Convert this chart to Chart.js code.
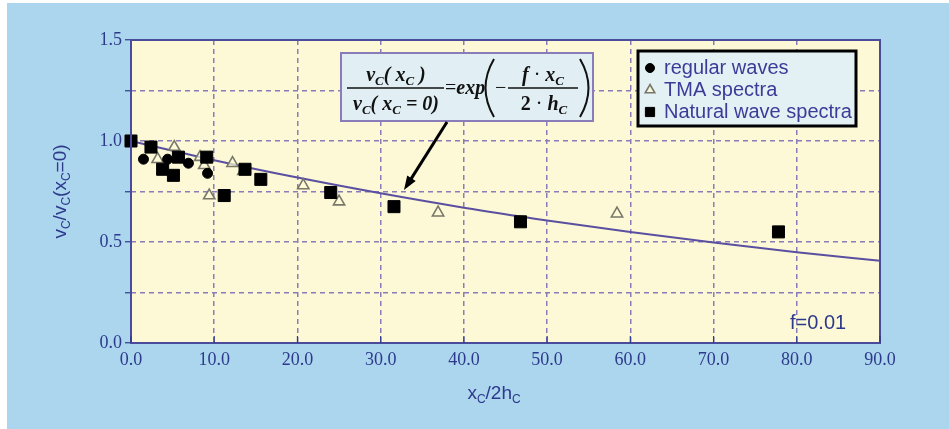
<!DOCTYPE html>
<html>
<head>
<meta charset="utf-8">
<script src="https://cdn.jsdelivr.net/npm/chart.js@4.4.0/dist/chart.umd.min.js"></script>
<style>
  html, body { margin: 0; padding: 0; background: #fff; }
  #wrap { width: 949px; height: 429px; }
</style>
</head>
<body>
<div id="wrap"><canvas id="c"></canvas></div>
<script>
// values
const xTickLabels = ['0.0', '10.0', '20.0', '30.0', '40.0', '50.0', '60.0', '70.0', '80.0', '90.0'];
const yTickLabels = ['0.0', '', '0.5', '', '1.0', '', '1.5'];

const regularX = [1.5, 4.4, 6.9, 9.2];
const regularY = [0.91, 0.91, 0.89, 0.84];

const tmaX = [3.2, 5.2, 8.3, 8.8, 9.4, 12.2, 13.5, 20.7, 25.0, 36.9, 58.4];
const tmaY = [0.91, 0.97, 0.92, 0.88, 0.73, 0.89, 0.85, 0.78, 0.70, 0.645, 0.64];

const naturalX = [0, 2.4, 3.8, 5.1, 5.7, 9.1, 11.2, 13.7, 15.6, 24.0, 31.6, 46.8, 77.8];
const naturalY = [1.0, 0.97, 0.86, 0.83, 0.92, 0.92, 0.73, 0.86, 0.81, 0.745, 0.675, 0.60, 0.55];

// fitted curve exp(-f*x), f = 0.01
const curveX = [0, 10, 20, 30, 40, 50, 60, 70, 80, 90];
const curveY = [1.0, 0.905, 0.819, 0.741, 0.670, 0.607, 0.549, 0.497, 0.449, 0.407];

const NAVY = '#2d3a8c';
const pts = (xs, ys) => xs.map((x, i) => ({x: x, y: ys[i]}));

function drawRuns(ctx, parts, x, y, align) {
  let w = 0;
  parts.forEach(p => { ctx.font = p[1]; w += ctx.measureText(p[0]).width; });
  let cx = align === 'center' ? x - w / 2 : x;
  parts.forEach(p => {
    ctx.font = p[1];
    ctx.fillText(p[0], cx, y + (p[2] || 0));
    cx += ctx.measureText(p[0]).width;
  });
  return w;
}

const decor = {
  id: 'decor',
  beforeDraw(chart) {
    const {ctx, chartArea: a} = chart;
    ctx.save();
    ctx.fillStyle = '#fff';
    ctx.fillRect(0, 0, chart.width, chart.height);
    ctx.fillStyle = '#acd5ee';
    ctx.fillRect(7, 3, chart.width - 7, chart.height - 3);
    ctx.fillStyle = '#fdf9d6';
    ctx.fillRect(a.left, a.top, a.right - a.left, a.bottom - a.top);
    ctx.restore();
  },
  afterDraw(chart) {
    const {ctx, chartArea: a} = chart;
    const xs = chart.scales.x, ys = chart.scales.y;
    ctx.save();

    // frame
    ctx.strokeStyle = '#4b4b9c';
    ctx.lineWidth = 2;
    ctx.strokeRect(a.left, a.top, a.right - a.left, a.bottom - a.top);

    // inward x ticks
    ctx.strokeStyle = NAVY;
    ctx.lineWidth = 1.2;
    xTickLabels.forEach((t, i) => {
      const px = xs.getPixelForValue(i * 10);
      ctx.beginPath();
      ctx.moveTo(px, a.bottom);
      ctx.lineTo(px, a.bottom - 7);
      ctx.stroke();
    });

    // axis titles
    ctx.fillStyle = NAVY;
    ctx.textAlign = 'left';
    ctx.textBaseline = 'alphabetic';
    const T = '19px "Liberation Sans"', S = '12px "Liberation Sans"';
    drawRuns(ctx, [['x', T], ['C', S, 4], ['/2h', T], ['C', S, 4]], 494, 399, 'center');
    ctx.save();
    ctx.translate(60, (a.top + a.bottom) / 2);
    ctx.rotate(-Math.PI / 2);
    drawRuns(ctx, [['v', T], ['C', S, 4], ['/v', T], ['C', S, 4], ['(x', T], ['C', S, 4], ['=0)', T]], 0, 6, 'center');
    ctx.restore();

    // f label
    ctx.font = '20px "Liberation Sans"';
    ctx.fillText('f=0.01', 790, 329);

    // formula box
    ctx.fillStyle = '#e1eff4';
    ctx.fillRect(341, 53, 252, 68);
    ctx.strokeStyle = '#8a7cb8';
    ctx.lineWidth = 2;
    ctx.strokeRect(341, 53, 252, 68);

    const BI = 'bold italic 20px "Liberation Serif"';
    const SB = 'bold italic 13px "Liberation Serif"';
    const R = '20px "Liberation Serif"';
    const RB = 'bold 20px "Liberation Serif"';
    ctx.fillStyle = '#111';
    drawRuns(ctx, [['v', BI], ['C', SB, 4], ['( ', BI], ['x', BI], ['C', SB, 4], [' )', BI]], 396, 81, 'center');
    drawRuns(ctx, [['v', BI], ['C', SB, 4], ['( ', BI], ['x', BI], ['C', SB, 4], [' = 0)', BI]], 396, 110, 'center');
    ctx.strokeStyle = '#111';
    ctx.lineWidth = 1.5;
    ctx.beginPath(); ctx.moveTo(347, 88); ctx.lineTo(444, 88); ctx.stroke();
    drawRuns(ctx, [['=', R], ['exp', BI]], 445, 94);
    ctx.lineWidth = 2;
    ctx.beginPath(); ctx.moveTo(494, 59); ctx.quadraticCurveTo(477, 88, 494, 117); ctx.stroke();
    ctx.beginPath(); ctx.moveTo(580, 59); ctx.quadraticCurveTo(597, 88, 580, 117); ctx.stroke();
    drawRuns(ctx, [['\u2212', R]], 495, 94);
    drawRuns(ctx, [['f', BI], [' \u00b7 ', R], ['x', BI], ['C', SB, 4]], 543, 81, 'center');
    drawRuns(ctx, [['2', RB], [' \u00b7 ', R], ['h', BI], ['C', SB, 4]], 544, 110, 'center');
    ctx.lineWidth = 1.5;
    ctx.beginPath(); ctx.moveTo(508, 88); ctx.lineTo(578, 88); ctx.stroke();

    // arrow to the curve
    const x1 = 447, y1 = 122;
    const x2 = xs.getPixelForValue(32.8), y2 = ys.getPixelForValue(0.757);
    const ang = Math.atan2(y2 - y1, x2 - x1);
    ctx.strokeStyle = '#000';
    ctx.lineWidth = 3;
    ctx.beginPath();
    ctx.moveTo(x1, y1);
    ctx.lineTo(x2 - 10 * Math.cos(ang), y2 - 10 * Math.sin(ang));
    ctx.stroke();
    ctx.fillStyle = '#000';
    ctx.beginPath();
    ctx.moveTo(x2, y2);
    ctx.lineTo(x2 - 14 * Math.cos(ang) + 5 * Math.sin(ang), y2 - 14 * Math.sin(ang) - 5 * Math.cos(ang));
    ctx.lineTo(x2 - 14 * Math.cos(ang) - 5 * Math.sin(ang), y2 - 14 * Math.sin(ang) + 5 * Math.cos(ang));
    ctx.closePath();
    ctx.fill();

    // legend box
    ctx.fillStyle = '#e3f0f4';
    ctx.fillRect(638, 51, 218, 75);
    ctx.strokeStyle = '#000';
    ctx.lineWidth = 3;
    ctx.strokeRect(638, 51, 218, 75);
    const legendSizes = [4.5, 5.5, 6.5];
    chart.data.datasets.slice(0, 3).forEach((ds, i) => {
      const ly = 68 + i * 22;
      ctx.fillStyle = ds.backgroundColor;
      ctx.strokeStyle = ds.borderColor;
      ctx.lineWidth = ds.borderWidth || 1;
      Chart.helpers.drawPoint(ctx, {pointStyle: ds.pointStyle, radius: legendSizes[i], rotation: 0, borderWidth: ds.borderWidth || 1}, 650, ly);
      ctx.fillStyle = '#3b3c98';
      ctx.font = '20px "Liberation Sans"';
      ctx.textBaseline = 'middle';
      ctx.fillText(ds.label, 664, ly);
    });

    ctx.restore();
  }
};

new Chart(document.getElementById('c'), {
  type: 'scatter',
  data: {
    datasets: [
      {label: 'regular waves', data: pts(regularX, regularY), pointStyle: 'circle', pointRadius: 5,
       backgroundColor: '#000', borderColor: '#000', borderWidth: 1, clip: false, order: 1},
      {label: 'TMA spectra', data: pts(tmaX, tmaY), pointStyle: 'triangle', pointRadius: 6.5,
       backgroundColor: 'rgba(253,249,214,0.7)', borderColor: '#77776a', borderWidth: 1.6, clip: false, order: 2},
      {label: 'Natural wave spectra', data: pts(naturalX, naturalY), pointStyle: 'rect', pointRadius: 8.5,
       backgroundColor: '#000', borderColor: '#000', borderWidth: 1, clip: false, order: 0},
      {label: 'curve', data: pts(curveX, curveY), showLine: true, pointRadius: 0,
       borderColor: '#5a4fa0', borderWidth: 2, cubicInterpolationMode: 'monotone', order: 3}
    ]
  },
  options: {
    responsive: true,
    maintainAspectRatio: false,
    animation: false,
    events: [],
    layout: {padding: {left: 0, top: 40, right: 69, bottom: 0}},
    plugins: {legend: {display: false}, tooltip: {enabled: false}},
    scales: {
      x: {
        type: 'linear', min: 0, max: 90,
        afterFit: s => { s.height = 86; },
        afterBuildTicks: s => { s.ticks = xTickLabels.map((t, i) => ({value: i * 10})); },
        ticks: {
          autoSkip: false, maxRotation: 0, padding: 6, color: NAVY,
          font: {family: '"Liberation Serif"', size: 18},
          callback: (v, i) => xTickLabels[i]
        },
        grid: {color: '#8a7cb8', lineWidth: 1.5, drawTicks: false},
        border: {display: false, dash: [5, 4]}
      },
      y: {
        min: 0, max: 1.5,
        afterFit: s => { s.width = 131; },
        afterBuildTicks: s => { s.ticks = yTickLabels.map((t, i) => ({value: i * 0.25})); },
        ticks: {
          autoSkip: false, padding: 3, color: NAVY,
          font: {family: '"Liberation Serif"', size: 18},
          callback: (v, i) => yTickLabels[i]
        },
        grid: {color: '#8a7cb8', lineWidth: 1.5, tickLength: 6, tickColor: NAVY, tickWidth: 1.2, tickBorderDash: []},
        border: {display: false, dash: [5, 4]}
      }
    }
  },
  plugins: [decor]
});
</script>
</body>
</html>
